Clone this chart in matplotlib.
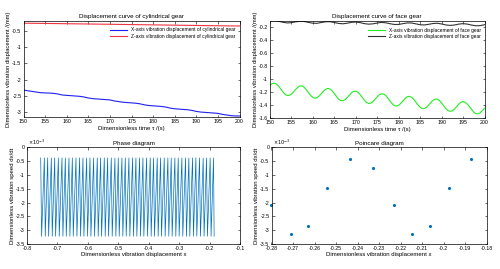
import matplotlib
matplotlib.use("Agg")
import matplotlib.pyplot as plt

plt.rcParams['font.family'] = ['Liberation Sans', 'DejaVu Sans']

# cylindrical gear, 1-unit steps from 150 to 200
t_cyl = list(range(150, 201))
x_cyl = [-2.32, -2.34, -2.36, -2.38, -2.40, -2.405, -2.41, -2.42, -2.44, -2.47,
         -2.48, -2.49, -2.50, -2.51, -2.53, -2.56, -2.58, -2.59, -2.60, -2.61,
         -2.62, -2.65, -2.67, -2.69, -2.70, -2.71, -2.72, -2.74, -2.77, -2.79,
         -2.80, -2.81, -2.82, -2.84, -2.87, -2.89, -2.90, -2.91, -2.92, -2.94,
         -2.97, -2.99, -3.00, -3.01, -3.02, -3.03, -3.06, -3.08, -3.10, -3.11, -3.11]
t_cyl_z = [150, 155, 160, 165, 170, 175, 180, 185, 190, 195, 200]
z_cyl = [-0.275, -0.283, -0.292, -0.300, -0.309, -0.318, -0.327, -0.336, -0.345, -0.354, -0.362]

# face gear, X at 0.5 steps, Z at 1-unit steps
t_face_x = [150 + 0.5 * k for k in range(101)]
x_face = [-1.093, -1.067, -1.060, -1.074, -1.105, -1.148, -1.193, -1.229, -1.248, -1.247,
          -1.227, -1.193, -1.154, -1.121, -1.102, -1.103, -1.125, -1.162, -1.207, -1.249,
          -1.279, -1.291, -1.282, -1.255, -1.217, -1.180, -1.152, -1.140, -1.150, -1.178,
          -1.220, -1.265, -1.303, -1.326, -1.330, -1.313, -1.281, -1.242, -1.207, -1.185,
          -1.182, -1.200, -1.234, -1.278, -1.322, -1.355, -1.371, -1.366, -1.342, -1.306,
          -1.268, -1.237, -1.222, -1.227, -1.252, -1.292, -1.337, -1.377, -1.404, -1.411,
          -1.399, -1.369, -1.331, -1.294, -1.268, -1.262, -1.275, -1.307, -1.350, -1.394,
          -1.431, -1.450, -1.449, -1.428, -1.394, -1.356, -1.323, -1.304, -1.305, -1.326,
          -1.364, -1.409, -1.451, -1.481, -1.492, -1.484, -1.457, -1.419, -1.381, -1.353,
          -1.342, -1.352, -1.380, -1.421, -1.466, -1.505, -1.528, -1.531, -1.514, -1.482,
          -1.444]
t_face_z = list(range(150, 201))
z_face = [-0.107, -0.101, -0.109, -0.124, -0.134, -0.130, -0.117, -0.108, -0.112, -0.126,
          -0.139, -0.139, -0.127, -0.116, -0.115, -0.127, -0.142, -0.147, -0.138, -0.125,
          -0.120, -0.129, -0.145, -0.153, -0.148, -0.135, -0.126, -0.132, -0.146, -0.158,
          -0.157, -0.145, -0.134, -0.135, -0.148, -0.162, -0.165, -0.155, -0.143, -0.139,
          -0.150, -0.165, -0.172, -0.166, -0.152, -0.145, -0.152, -0.167, -0.178, -0.175,
          -0.162]

# phase diagram: zigzag between upper and lower turning points
phase_top_x = [-0.755, -0.743, -0.732, -0.720, -0.709, -0.697, -0.685, -0.674, -0.662, -0.651,
               -0.639, -0.627, -0.616, -0.604, -0.593, -0.581, -0.569, -0.558, -0.546, -0.535,
               -0.523, -0.511, -0.500, -0.488, -0.477, -0.465, -0.453, -0.442, -0.430, -0.419,
               -0.407, -0.395, -0.384, -0.372, -0.361, -0.349, -0.337, -0.326, -0.314, -0.303,
               -0.291, -0.279, -0.268, -0.256, -0.245, -0.233, -0.221, -0.210, -0.198, -0.187]
phase_bot_x = [-0.752, -0.740, -0.729, -0.717, -0.706, -0.694, -0.682, -0.671, -0.659, -0.648,
               -0.636, -0.624, -0.613, -0.601, -0.590, -0.578, -0.566, -0.555, -0.543, -0.532,
               -0.520, -0.508, -0.497, -0.485, -0.474, -0.462, -0.450, -0.439, -0.427, -0.416,
               -0.404, -0.392, -0.381, -0.369, -0.358, -0.346, -0.334, -0.323, -0.311, -0.300,
               -0.288, -0.276, -0.265, -0.253, -0.242, -0.230, -0.218, -0.207, -0.195, -0.185]
phase_top_v = -0.38e-3
phase_bot_v = -3.22e-3

# poincare section
poin_x = [-0.280, -0.271, -0.263, -0.254, -0.2435, -0.233, -0.223, -0.2145, -0.2065, -0.1975, -0.187]
poin_v = [-2.10e-3, -3.15e-3, -2.85e-3, -1.48e-3, -0.43e-3, -0.75e-3, -2.10e-3, -3.15e-3,
          -2.85e-3, -1.48e-3, -0.43e-3]

time_ticks = [150, 155, 160, 165, 170, 175, 180, 185, 190, 195, 200]

TICK = 3.8
LAB = 4.3
TIT = 4.5
mblue = '#0072BD'

fig = plt.figure(figsize=(5.0, 2.69), dpi=100)
ax1 = fig.add_axes([0.047, 0.564, 0.432, 0.359])
ax2 = fig.add_axes([0.540, 0.560, 0.429, 0.363])
ax3 = fig.add_axes([0.054, 0.093, 0.426, 0.359])
ax4 = fig.add_axes([0.543, 0.093, 0.430, 0.359])


def style(ax):
    ax.tick_params(direction='in', top=True, right=True, length=1.8, width=0.4,
                   labelsize=TICK, pad=1.5)
    for s in ax.spines.values():
        s.set_linewidth(0.5)


ax1.plot(t_cyl, x_cyl, color='#2020ee', lw=0.8,
         label='X-axis vibration displacement of cylindrical gear')
ax1.plot(t_cyl_z, z_cyl, color='#ee3344', lw=0.8,
         label='Z-axis vibration displacement of cylindrical gear')
ax1.set_xlim(150, 200)
ax1.set_ylim(-3.15, -0.2)
ax1.set_xticks(time_ticks)
ax1.set_yticks([-3, -2.5, -2, -1.5, -1, -0.5])
ax1.set_yticklabels(['-3', '-2.5', '-2', '-1.5', '-1', '-0.5'])
ax1.set_title('Displacement curve of cylindrical gear', fontsize=TIT, pad=2)
ax1.set_xlabel('Dimensionless time τ /(s)', fontsize=LAB, labelpad=1)
ax1.set_ylabel('Dimensionless vibration displacement /(mm)', fontsize=4.2, labelpad=0.5)
ax1.legend(loc='upper right', fontsize=3.5, frameon=False, handlelength=3.5,
           borderaxespad=0.4, labelspacing=0.3, bbox_to_anchor=(1.0, 0.97))
style(ax1)

ax2.plot(t_face_x, x_face, color='#22ee22', lw=0.8,
         label='X-axis vibration displacement of face gear')
ax2.plot(t_face_z, z_face, color='#333333', lw=0.8,
         label='Z-axis vibration displacement of face gear')
ax2.set_xlim(150, 200)
ax2.set_ylim(-1.6, -0.1)
ax2.set_xticks(time_ticks)
ax2.set_yticks([-1.6, -1.4, -1.2, -1, -0.8, -0.6, -0.4, -0.2])
ax2.set_yticklabels(['-1.6', '-1.4', '-1.2', '-1', '-0.8', '-0.6', '-0.4', '-0.2'])
ax2.set_title('Displacement curve of face gear', fontsize=TIT, pad=2)
ax2.set_xlabel('Dimensionless time τ /(s)', fontsize=LAB, labelpad=1)
ax2.set_ylabel('Dimensionless vibration displacement /(mm)', fontsize=4.2, labelpad=0.5)
ax2.legend(loc='upper right', fontsize=3.5, frameon=False, handlelength=3.5,
           borderaxespad=0.4, labelspacing=0.3, bbox_to_anchor=(1.0, 0.97))
style(ax2)

px, pv = [], []
for xt, xb in zip(phase_top_x, phase_bot_x):
    px += [xt, xb]
    pv += [phase_top_v / 1e-3, phase_bot_v / 1e-3]
ax3.plot(px, pv, color=mblue, lw=0.5)
ax3.set_xlim(-0.8, -0.1)
ax3.set_ylim(-3.5, 0)
ax3.set_xticks([-0.8, -0.7, -0.6, -0.5, -0.4, -0.3, -0.2, -0.1])
ax3.set_xticklabels(['-0.8', '-0.7', '-0.6', '-0.5', '-0.4', '-0.3', '-0.2', '-0.1'])
ax3.set_yticks([-3.5, -3, -2.5, -2, -1.5, -1, -0.5, 0])
ax3.set_yticklabels(['-3.5', '-3', '-2.5', '-2', '-1.5', '-1', '-0.5', '0'])
ax3.set_title('Phase diagram', fontsize=TIT, pad=2)
ax3.set_xlabel('Dimensionless vibration displacement x', fontsize=LAB, labelpad=1)
ax3.set_ylabel('Dimensionless vibration speed dx/dt', fontsize=LAB, labelpad=0.5)
ax3.text(0.005, 1.0, r'$\times10^{-3}$', transform=ax3.transAxes, fontsize=3.5,
         va='bottom', ha='left')
style(ax3)

ax4.plot(poin_x, [v / 1e-3 for v in poin_v], '.', color=mblue, ms=2.5, clip_on=False)
ax4.set_xlim(-0.28, -0.18)
ax4.set_ylim(-3.5, 0)
ax4.set_xticks([-0.28, -0.27, -0.26, -0.25, -0.24, -0.23, -0.22, -0.21, -0.2, -0.19, -0.18])
ax4.set_xticklabels(['-0.28', '-0.27', '-0.26', '-0.25', '-0.24', '-0.23', '-0.22', '-0.21',
                     '-0.2', '-0.19', '-0.18'])
ax4.set_yticks([-3.5, -3, -2.5, -2, -1.5, -1, -0.5, 0])
ax4.set_yticklabels(['-3.5', '-3', '-2.5', '-2', '-1.5', '-1', '-0.5', '0'])
ax4.set_title('Poincare diagram', fontsize=TIT, pad=2)
ax4.set_xlabel('Dimensionless vibration displacement x', fontsize=LAB, labelpad=1)
ax4.set_ylabel('Dimensionless vibration speed dx/dt', fontsize=LAB, labelpad=0.5)
ax4.text(0.005, 1.0, r'$\times10^{-3}$', transform=ax4.transAxes, fontsize=3.5,
         va='bottom', ha='left')
style(ax4)

fig.savefig('out.png', dpi=100)
